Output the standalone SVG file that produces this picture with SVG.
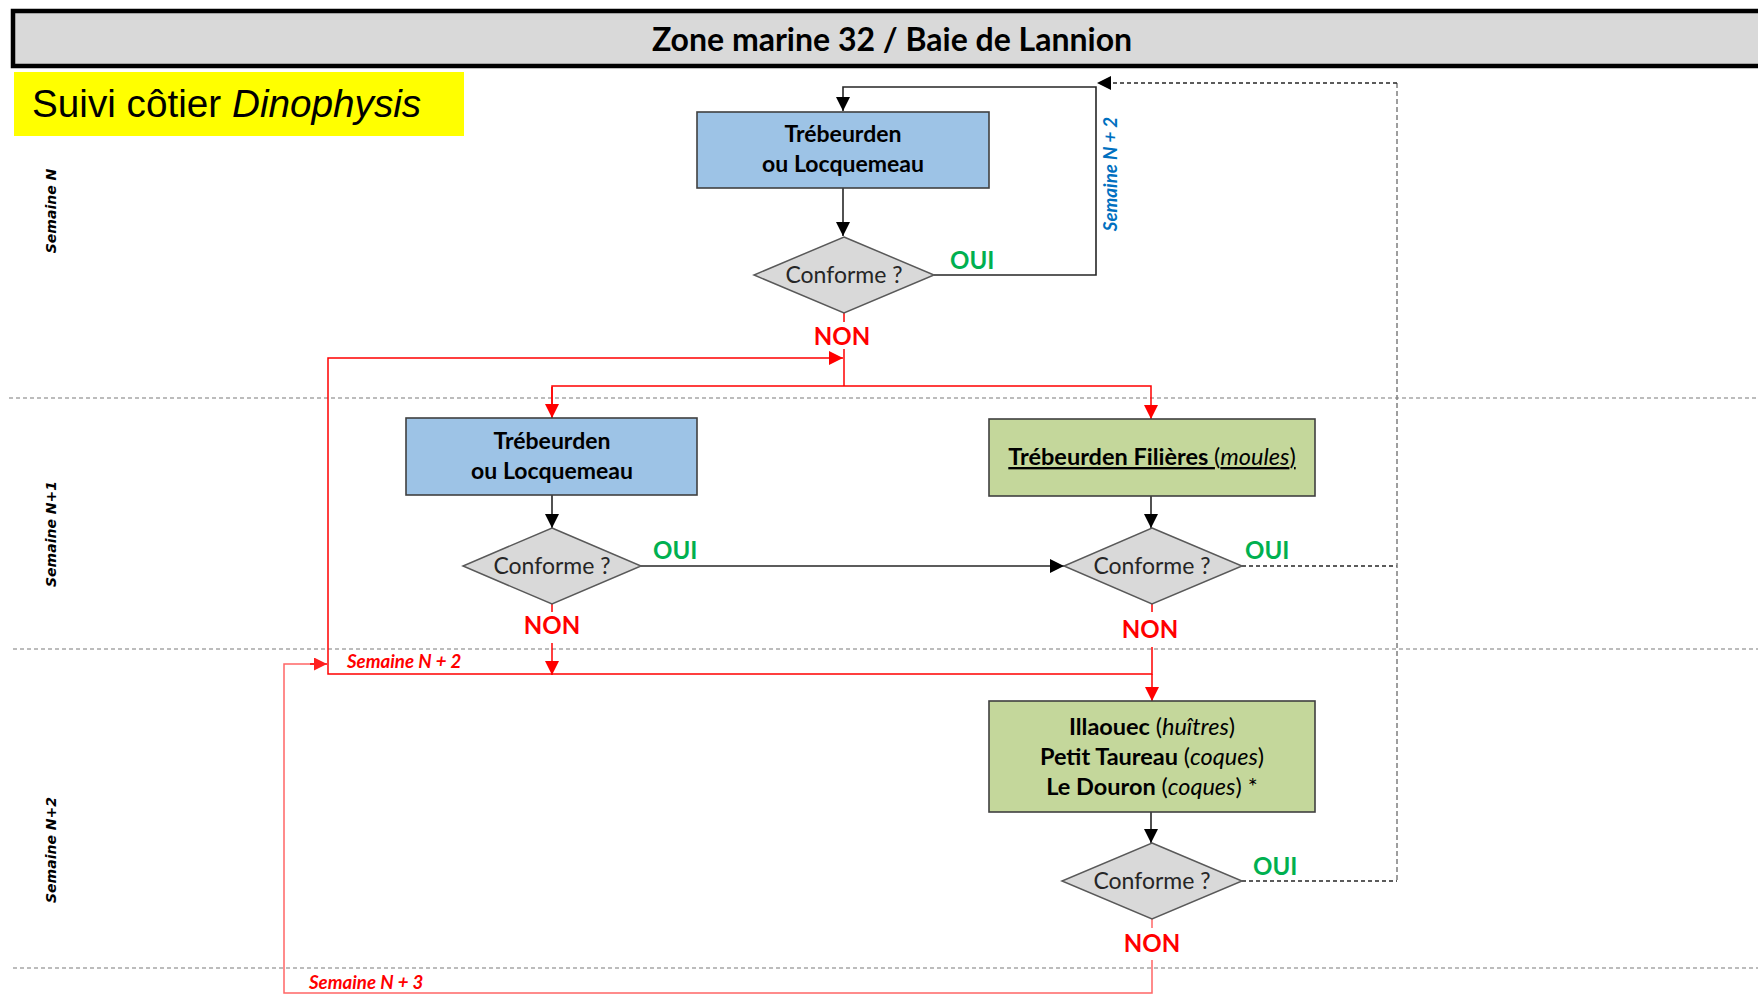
<svg xmlns="http://www.w3.org/2000/svg" width="1758" height="994" viewBox="0 0 1758 994">
<defs>
<style>
.lane{stroke:#a6a6a6;stroke-width:1.3;stroke-dasharray:4,3;fill:none}
.blk{stroke:#262626;stroke-width:1.6;fill:none}
.red{stroke:#ff0000;stroke-width:1.5;fill:none}
.red2{stroke:#ff6666;stroke-width:1.5;fill:none}
.dsh{stroke:#262626;stroke-width:1.5;stroke-dasharray:4,3;fill:none}
.dshg{stroke:#7f7f7f;stroke-width:1.5;stroke-dasharray:5,3;fill:none}
.blue{fill:#9dc3e6;stroke:#404040;stroke-width:1.6}
.green{fill:#c4d79b;stroke:#404040;stroke-width:1.6}
.dia{fill:#d9d9d9;stroke:#595959;stroke-width:1.5}
.t{font-family:Lato,"Liberation Sans",sans-serif;fill:#000;text-anchor:middle}
.b{font-weight:bold}
.bt{font-family:Lato,"Liberation Sans",sans-serif;font-weight:bold;font-size:23px;fill:#000;text-anchor:middle}
.bt2{font-family:Lato,"Liberation Sans",sans-serif;font-weight:bold;font-size:23.5px;fill:#000;text-anchor:middle}
.ct{font-family:Lato,"Liberation Sans",sans-serif;font-size:23px;fill:#262626;text-anchor:middle}
.oui{font-family:Lato,"Liberation Sans",sans-serif;font-weight:bold;font-size:24px;fill:#00b050}
.non{font-family:Lato,"Liberation Sans",sans-serif;font-weight:bold;font-size:24px;fill:#ff0000;text-anchor:middle}
.lanel{font-family:"DejaVu Sans",sans-serif;font-weight:bold;font-style:italic;font-size:14px;fill:#000;text-anchor:middle}
.sem{font-family:Lato,"Liberation Sans",sans-serif;font-weight:bold;font-style:italic;font-size:18.7px}
</style>
<marker id="ab" viewBox="0 0 10 10" refX="10" refY="5" markerWidth="14" markerHeight="14" orient="auto" markerUnits="userSpaceOnUse"><path d="M0,0 L10,5 L0,10 z" fill="#000"/></marker>
<marker id="ar" viewBox="0 0 10 10" refX="10" refY="5" markerWidth="14" markerHeight="14" orient="auto" markerUnits="userSpaceOnUse"><path d="M0,0 L10,5 L0,10 z" fill="#ff0000"/></marker>
<marker id="ar2" viewBox="0 0 10 10" refX="10" refY="5" markerWidth="13" markerHeight="13" orient="auto" markerUnits="userSpaceOnUse"><path d="M0,0 L10,5 L0,10 z" fill="#ff2020"/></marker>
</defs>
<rect x="0" y="0" width="1758" height="994" fill="#ffffff"/>

<g id="header">
<rect x="13" y="11" width="1770" height="55" fill="#d9d9d9" stroke="#000" stroke-width="4.5"/>
<text class="t b" x="892" y="51" font-size="32">Zone marine 32 / Baie de Lannion</text>
</g>

<g id="title">
<rect x="14" y="72" width="450" height="64" fill="#ffff00"/>
<text x="32" y="117" font-family="'Liberation Sans',Arial,sans-serif" font-size="38.7" fill="#000">Suivi côtier <tspan font-style="italic">Dinophysis</tspan></text>
</g>

<g id="lanes">
<line class="lane" x1="9" y1="398" x2="1758" y2="398"/>
<line class="lane" x1="13" y1="649" x2="1758" y2="649"/>
<line class="lane" x1="13" y1="968" x2="1758" y2="968"/>
<text class="lanel" transform="translate(56,211) rotate(-90)">Semaine N</text>
<text class="lanel" transform="translate(56,534) rotate(-90)">Semaine N+1</text>
<text class="lanel" transform="translate(56,850) rotate(-90)">Semaine N+2</text>
</g>

<g id="connectors">
<line class="blk" x1="843" y1="188" x2="843" y2="236" marker-end="url(#ab)"/>
<path class="blk" d="M934,275 H1096 V87 H843 V111" marker-end="url(#ab)"/>
<line class="blk" x1="552" y1="495" x2="552" y2="528" marker-end="url(#ab)"/>
<line class="blk" x1="641" y1="566" x2="1064" y2="566" marker-end="url(#ab)"/>
<line class="blk" x1="1151" y1="496" x2="1151" y2="528" marker-end="url(#ab)"/>
<line class="blk" x1="1151" y1="812" x2="1151" y2="843" marker-end="url(#ab)"/>
<line class="dsh" x1="1242" y1="566" x2="1397" y2="566"/>
<line class="dsh" x1="1242" y1="881" x2="1397" y2="881"/>
<line class="dshg" x1="1397" y1="83" x2="1397" y2="881"/>
<line class="dsh" x1="1397" y1="83" x2="1097" y2="83" marker-end="url(#ab)"/>
<line class="red" x1="844" y1="313" x2="844" y2="322"/>
<line class="red" x1="844" y1="349" x2="844" y2="386"/>
<path class="red" d="M552,418 V386 H1151 V419" marker-end="url(#ar)"/>
<line class="red" x1="552" y1="387" x2="552" y2="418" marker-end="url(#ar)"/>
<path class="red" d="M552,674 H328 V358 H843" marker-end="url(#ar)"/>
<line class="red" x1="552" y1="604" x2="552" y2="612"/>
<line class="red" x1="552" y1="643" x2="552" y2="675" marker-end="url(#ar)"/>
<line class="red" x1="1152" y1="604" x2="1152" y2="612"/>
<path class="red" d="M1152,647 V674 H552"/>
<line class="red" x1="1152" y1="674" x2="1152" y2="701" marker-end="url(#ar)"/>
<line class="red2" x1="1152" y1="919" x2="1152" y2="928"/>
<path class="red2" d="M1152,960 V993 H284 V664 H315"/>
<line class="red" x1="310" y1="664" x2="327" y2="664" marker-end="url(#ar2)"/>
</g>

<g id="box1">
<rect class="blue" x="697" y="112" width="292" height="76"/>
<text class="bt" x="843" y="142">Trébeurden</text>
<text class="bt" x="843" y="172">ou Locquemeau</text>
</g>

<g id="dec1">
<polygon class="dia" points="844,237 934,275 844,313 754,275"/>
<text class="ct" x="844" y="283">Conforme ?</text>
<text class="oui" x="950" y="269">OUI</text>
<text class="non" x="842" y="345">NON</text>
<text class="sem" fill="#0070c0" text-anchor="middle" transform="translate(1117,174) rotate(-90)">Semaine N + 2</text>
</g>

<g id="box2">
<rect class="blue" x="406" y="418" width="291" height="77"/>
<text class="bt" x="552" y="449">Trébeurden</text>
<text class="bt" x="552" y="479">ou Locquemeau</text>
</g>

<g id="dec2">
<polygon class="dia" points="552,528 641,566 552,604 463,566"/>
<text class="ct" x="552" y="574">Conforme ?</text>
<text class="oui" x="653" y="559">OUI</text>
<text class="non" x="552" y="634">NON</text>
</g>

<g id="box3">
<rect class="green" x="989" y="419" width="326" height="77"/>
<text class="bt2" x="1152" y="465" text-decoration="underline">Trébeurden Filières <tspan font-weight="normal">(<tspan font-style="italic">moules</tspan>)</tspan></text>
</g>

<g id="dec3">
<polygon class="dia" points="1152,528 1242,566 1152,604 1064,566"/>
<text class="ct" x="1152" y="574">Conforme ?</text>
<text class="oui" x="1245" y="559">OUI</text>
<text class="non" x="1150" y="638">NON</text>
</g>

<g id="box4">
<rect class="green" x="989" y="701" width="326" height="111"/>
<text class="bt2" x="1152" y="735">Illaouec <tspan font-weight="normal">(<tspan font-style="italic">huîtres</tspan>)</tspan></text>
<text class="bt2" x="1152" y="765">Petit Taureau <tspan font-weight="normal">(<tspan font-style="italic">coques</tspan>)</tspan></text>
<text class="bt2" x="1152" y="795">Le Douron <tspan font-weight="normal">(<tspan font-style="italic">coques</tspan>) *</tspan></text>
</g>

<g id="dec4">
<polygon class="dia" points="1152,843 1242,881 1152,919 1062,881"/>
<text class="ct" x="1152" y="889">Conforme ?</text>
<text class="oui" x="1253" y="875">OUI</text>
<text class="non" x="1152" y="952">NON</text>
</g>

<g id="weeklabels">
<text class="sem" fill="#ff0000" x="347" y="668">Semaine N + 2</text>
<text class="sem" fill="#ff0000" x="309" y="989">Semaine N + 3</text>
</g>
</svg>
